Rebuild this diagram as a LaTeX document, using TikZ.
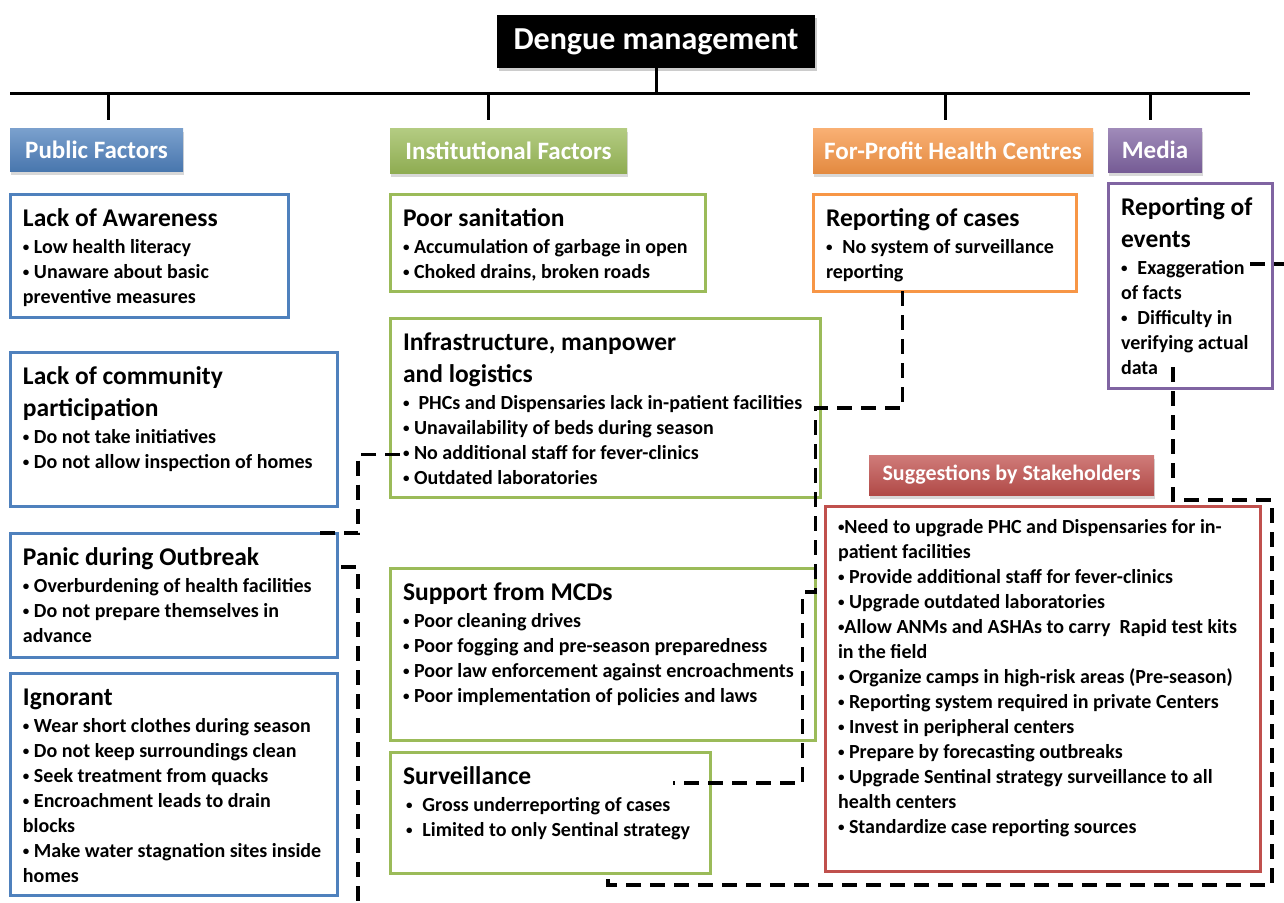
\documentclass[tikz,border=0pt]{standalone}
\usepackage{fontspec}
\setmainfont{Carlito}
\usetikzlibrary{positioning,shadows}

\definecolor{pblue}{HTML}{4F81BD}
\definecolor{igreen}{HTML}{9BBB59}
\definecolor{forange}{HTML}{F79646}
\definecolor{mpurple}{HTML}{8064A2}
\definecolor{sred}{HTML}{C0504D}

\newcommand{\boxtext}[3]{\parbox[t][#2][t]{#1}{\raggedright\bfseries #3}}
\newcommand{\hd}[1]{{\fontsize{25.5}{32}\selectfont\strut #1\par}\vspace{2pt}}
\newcommand{\bd}{\fontsize{20}{25}\selectfont}
\newcommand{\bul}{{\fontsize{13}{13}\selectfont\raisebox{2.4pt}{\textbullet}}}

\begin{document}
\begin{tikzpicture}[x=1pt,y=-1pt]
\tikzstyle{headbox}=[rectangle, fill=black, text=white, font=\bfseries\fontsize{32}{38}\selectfont, minimum width=318pt, minimum height=53pt, drop shadow={shadow xshift=2pt, shadow yshift=-3pt, opacity=0.4}]
\tikzstyle{hdr}=[rectangle, top color=#1!75!white, bottom color=#1!92!black, text=white, inner sep=0pt, font=\bfseries\fontsize{25}{30}\selectfont, drop shadow={shadow xshift=1pt, shadow yshift=-4pt, opacity=0.3}]
\tikzstyle{pbox}=[rectangle, draw=#1, line width=3pt, fill=white, inner xsep=13pt, inner ysep=10pt, outer sep=0pt, anchor=north west]
\tikzstyle{trunk}=[line width=3pt]
\tikzstyle{dashlink}=[line width=3.5pt, dash pattern=on 15pt off 9pt]
\useasboundingbox[fill=white] (0,0) rectangle (1284,902);

\node[headbox] (dengue) at (656,41.5) {\raisebox{-2pt}{Dengue management}};
\coordinate (lineL) at (10,93);
\coordinate (lineR) at (1250,93);

% category headers
\node[hdr=pblue, minimum width=173pt, minimum height=43pt] (pub) at (96.5,149.5) {Public Factors};
\node[hdr=igreen, minimum width=237pt, minimum height=45pt] (inst) at (508.5,150.5) {Institutional Factors};
\node[hdr=forange, minimum width=280pt, minimum height=45pt] (fp) at (953,150.5) {For-Profit Health Centres};
\node[hdr=mpurple, minimum width=94pt, minimum height=44pt] (media) at (1155,150) {Media};

\path[trunk] (lineL) edge (lineR)
  (dengue.south) edge (dengue.south |- lineL);
\foreach \x/\h in {108/pub, 488/inst, 945/fp, 1150/media}
  \draw[trunk, shorten >=8pt] (\x,93) -- (\x,93 |- \h.north);

% public factors
\node[pbox=pblue] (aware) at (10,194) {\boxtext{252pt}{103pt}{\hd{Lack of Awareness}\bd
  \bul{} Low health literacy\\ \bul{} Unaware about basic\\ preventive measures}};
\node[pbox=pblue, below=35pt of aware.south west, anchor=north west] (community) {\boxtext{301pt}{134pt}{\hd{Lack of community\\participation}\bd
  \bul{} Do not take initiatives\\ \bul{} Do not allow inspection of homes}};
\node[pbox=pblue, below=27pt of community.south west, anchor=north west] (panic) {\boxtext{301pt}{104pt}{\hd{Panic during Outbreak}\bd
  \bul{} Overburdening of health facilities\\ \bul{} Do not prepare themselves in\\ advance}};
\node[pbox=pblue, below=16pt of panic.south west, anchor=north west] (ignorant) {\boxtext{301pt}{202pt}{\hd{Ignorant}\bd
  \bul{} Wear short clothes during season\\ \bul{} Do not keep surroundings clean\\ \bul{} Seek treatment from quacks\\
  \bul{} Encroachment leads to drain\\ blocks\\ \bul{} Make water stagnation sites inside\\ homes}};

% institutional factors
\node[pbox=igreen] (sanit) at (390,194) {\boxtext{289pt}{77pt}{\hd{Poor sanitation}\bd
  \bul{} Accumulation of garbage in open\\ \bul{} Choked drains, broken roads}};
\node[pbox=igreen, below=27pt of sanit.south west, anchor=north west] (infra) {\boxtext{404pt}{159pt}{\hd{Infrastructure, manpower\\and logistics}\bd
  \bul{}\ \ PHCs and Dispensaries lack in-patient facilities\\ \bul{} Unavailability of beds during season\\
  \bul{} No additional staff for fever-clinics\\ \bul{} Outdated laboratories}};
\node[pbox=igreen, below=71pt of infra.south west, anchor=north west] (support) {\boxtext{399pt}{152pt}{\hd{Support from MCDs}\bd
  \bul{} Poor cleaning drives\\ \bul{} Poor fogging and pre-season preparedness\\
  \bul{} Poor law enforcement against encroachments\\ \bul{} Poor implementation of policies and laws}};
\node[pbox=igreen, below=12pt of support.south west, anchor=north west] (surv) {\boxtext{294pt}{101pt}{\hd{Surveillance}\bd
  \hspace{3pt}\bul\hspace{10pt}Gross underreporting of cases\\ \hspace{3pt}\bul\hspace{10pt}Limited to only Sentinal strategy}};

% for-profit and media
\node[pbox=forange] (cases) at (813,194) {\boxtext{237pt}{77pt}{\hd{Reporting of cases}\bd
  \bul\hspace{10pt}No system of surveillance\\ reporting}};
\node[pbox=mpurple] (events) at (1108,183) {\boxtext{138pt}{185pt}{\hd{Reporting of\\events}\bd
  \bul\hspace{10pt}Exaggeration\\ of facts\\ \bul\hspace{10pt}Difficulty in\\ verifying actual\\ data}};

% suggestions
\node[hdr=sred, minimum width=285pt, minimum height=40pt, font=\bfseries\fontsize{22}{26}\selectfont] (sugg) at (1011.5,475) {Suggestions by Stakeholders};
\node[pbox=sred] (suggbox) at (825,506) {\boxtext{409pt}{345pt}{\bd\strut
  \bul Need to upgrade PHC and Dispensaries for in-\\ patient facilities\\
  \bul{} Provide additional staff for fever-clinics\\ \bul{} Upgrade outdated laboratories\\
  \bul Allow ANMs and ASHAs to carry \ Rapid test kits\\ in the field\\
  \bul{} Organize camps in high-risk areas (Pre-season)\\ \bul{} Reporting system required in private Centers\\
  \bul{} Invest in peripheral centers\\ \bul{} Prepare by forecasting outbreaks\\
  \bul{} Upgrade Sentinal strategy surveillance to all\\ health centers\\ \bul{} Standardize case reporting sources}};

% dashed links
\coordinate (botL) at (358,902);
\coordinate (edgeR) at (1284,264);
\draw[dashlink] ([xshift=-42pt]cases.south) |- ++(-87,117) |- ++(-13,184) |- ([shift={(283,31)}]surv.north west);
\draw[dashlink] ([shift={(10,47)}]infra.west) -| ([xshift=21pt]panic.north east) -- ([xshift=-17pt]panic.north east);
\draw[dashlink] ([shift={(4,34)}]panic.north east) -| (botL);
\draw[dashlink] ([shift={(-22,81)}]events.north east) -- (edgeR);
\draw[dashlink] ([shift={(-17,-21)}]events.south) |- ++(99,133) -- ++(0,385) -| ([xshift=58pt]surv.south);
\end{tikzpicture}
\end{document}
